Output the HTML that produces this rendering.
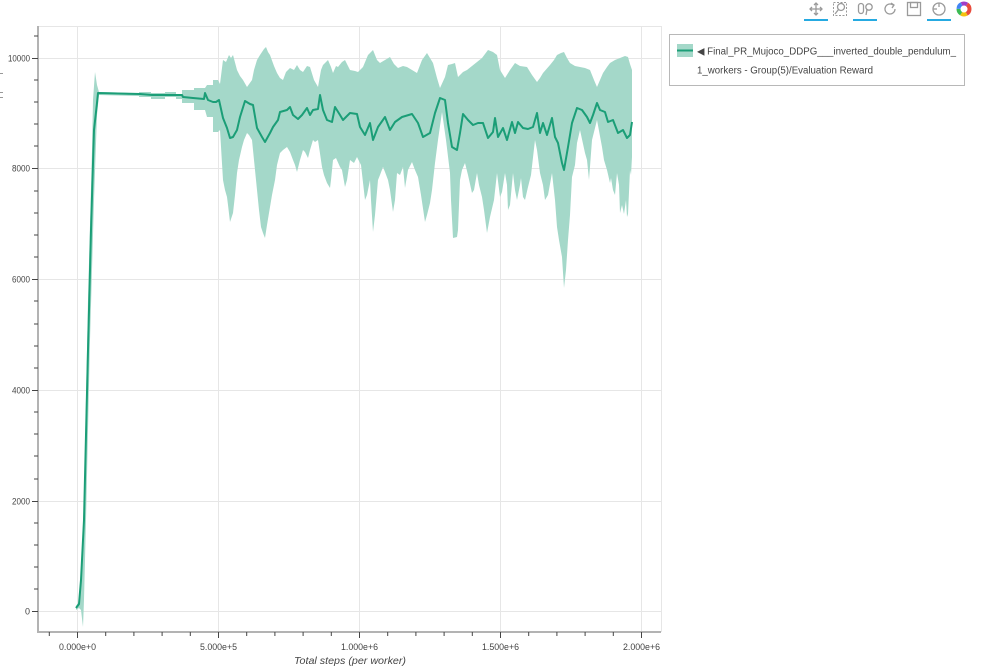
<!DOCTYPE html>
<html><head><meta charset="utf-8"><style>
html,body{margin:0;padding:0;background:#fff;}
svg{display:block;font-family:"Liberation Sans",sans-serif;}
</style></head><body>
<svg width="991" height="670" viewBox="0 0 991 670" xmlns="http://www.w3.org/2000/svg">
<rect width="991" height="670" fill="#fff"/>
<!-- grid -->
<g stroke="#e6e6e6" stroke-width="1">
<line x1="38" y1="58.5" x2="661" y2="58.5"/>
<line x1="38" y1="168.5" x2="661" y2="168.5"/>
<line x1="38" y1="279.5" x2="661" y2="279.5"/>
<line x1="38" y1="390.5" x2="661" y2="390.5"/>
<line x1="38" y1="501.5" x2="661" y2="501.5"/>
<line x1="38" y1="611.5" x2="661" y2="611.5"/>
<line x1="77.5" y1="26" x2="77.5" y2="632"/>
<line x1="218.5" y1="26" x2="218.5" y2="632"/>
<line x1="359.5" y1="26" x2="359.5" y2="632"/>
<line x1="500.5" y1="26" x2="500.5" y2="632"/>
<line x1="641.5" y1="26" x2="641.5" y2="632"/>
<line x1="38" y1="26.5" x2="661" y2="26.5"/>
<line x1="661.5" y1="26" x2="661.5" y2="632"/>
</g>
<!-- band -->
<polygon fill="#a4d8c9" points="76,606 80,600 84,500 88,300 92,150 93,100 95,72 97,85 99,92 139,93 139,92 151,92 151,93 165,93 165,92 176,92 176,94 182,94 182,90 194,90 194,88 205,88 207,85 213,85 213,80 218,80 220,84 223,60 226,62 229,55 231,58 233,55 237,70 240,76 243,80 247,87 252,80 254,70 257,60 260,55 262,52 264,49 266,47 268,52 270,55 274,66 277,73 280,78 283,80 286,72 290,68 294,70 297,65 300,70 303,72 307,66 310,67 314,80 318,87 321,70 323,65 328,60 331,67 333,73 336,66 338,67 342,62 345,60 348,66 350,70 355,71 358,72 363,67 368,55 371,52 373,50 377,60 380,63 385,60 390,57 394,64 398,68 403,66 407,67 412,70 417,73 422,60 427,53 430,58 433,63 437,78 440,88 445,77 448,65 452,64 455,63 458,77 463,72 467,70 472,66 477,62 482,58 488,50 493,52 497,55 500,70 505,78 510,70 515,63 520,66 527,67 532,75 537,82 540,78 543,73 550,65 554,60 557,55 561,53 564,52 567,58 570,63 575,66 580,67 585,68 590,70 594,80 597,87 600,80 603,73 607,67 610,63 615,60 620,58 625,56 628,57 630,64 632,70 632,157 631,175 630,170 628,214 627,217 626,200 624,214 622,205 620,213 619,185 617,173 615,195 613,190 611,178 610,183 607,170 604,160 602,147 597,120 592,140 589,180 587,160 585,153 580,130 577,143 575,165 572,177 570,215 568,240 566,270 564,288 562,257 559,240 557,227 555,200 552,173 548,195 545,200 543,185 540,173 537,150 535,140 531,175 528,187 525,200 523,197 521,178 520,185 517,200 515,190 513,173 510,205 508,210 507,185 505,173 502,192 500,197 497,173 494,200 490,217 487,233 484,210 482,197 479,185 477,173 474,190 472,193 468,175 465,163 462,170 460,180 458,230 457,237 453,238 451,200 450,173 446,140 442,112 438,140 435,163 432,190 430,203 427,215 425,222 421,195 418,177 415,170 412,162 408,170 405,188 403,167 400,175 397,173 395,200 393,212 390,190 388,180 385,172 383,167 380,175 378,180 375,215 373,232 371,200 370,180 367,195 365,200 361,165 357,157 354,163 350,160 347,180 345,187 342,170 340,167 336,158 333,160 331,180 330,188 327,183 324,175 322,167 318,140 315,142 313,140 310,150 308,158 305,152 303,150 300,160 297,172 295,165 293,160 290,152 287,147 283,150 280,153 277,165 275,180 272,195 270,207 267,225 265,238 263,233 261,227 259,210 257,190 254,160 252,140 249,135 247,133 244,140 242,147 239,160 237,173 235,195 233,213 230,222 228,205 227,197 225,190 223,180 220,130 218,132 213,132 213,117 207,117 205,110 194,110 194,103 182,103 182,99 176,99 176,97 165,97 165,99 151,99 151,97 139,97 139,96 99,95 97,115 94,200 90,340 86,520 84,600 83,627 81,610 79,608 76,610"/>
<!-- mean line -->
<polyline fill="none" stroke="#1b9e77" stroke-width="2" stroke-linejoin="round" points="76,608 79,604 81,580 84,520 88,350 91,230 94,130 97,103 98,93 140,94 152,95 166,95 182,95 183,97 193,98 204,99 205,93 208,100 213,102 216,102 219,100 223,118 227,128 230,138 233,137 237,130 240,117 245,101 250,104 253,105 257,128 262,137 265,142 270,133 273,127 278,120 280,112 287,110 290,107 293,115 298,119 302,115 307,108 310,115 313,110 318,109 320,95 323,110 327,120 332,122 335,107 340,115 343,120 350,113 357,114 360,127 365,135 370,123 373,140 378,127 385,117 390,130 395,122 402,117 412,114 418,123 423,137 430,133 435,113 440,98 445,100 448,123 452,147 457,150 460,133 463,114 468,120 473,125 478,123 483,123 488,138 493,132 495,118 498,137 503,128 507,140 512,122 515,133 518,122 523,128 528,129 533,127 537,113 540,133 543,123 547,135 552,118 555,137 558,143 562,163 564,170 568,147 572,123 577,108 582,110 587,117 590,123 593,115 597,103 600,110 605,112 608,122 613,120 618,133 623,130 627,138 630,135 632,122"/>
<!-- axes -->
<g stroke="#b3b3b3" stroke-width="2">
<line x1="38" y1="26" x2="38" y2="633"/>
<line x1="37" y1="632" x2="661" y2="632"/>
</g>
<g stroke="#444" stroke-width="1">
<line x1="32" y1="58.5" x2="38" y2="58.5"/>
<line x1="32" y1="168.5" x2="38" y2="168.5"/>
<line x1="32" y1="279.5" x2="38" y2="279.5"/>
<line x1="32" y1="390.5" x2="38" y2="390.5"/>
<line x1="32" y1="501.5" x2="38" y2="501.5"/>
<line x1="32" y1="611.5" x2="38" y2="611.5"/>
<line x1="34" y1="36" x2="38" y2="36"/>
<line x1="34" y1="80" x2="38" y2="80"/><line x1="34" y1="102" x2="38" y2="102"/><line x1="34" y1="124" x2="38" y2="124"/><line x1="34" y1="146" x2="38" y2="146"/>
<line x1="34" y1="191" x2="38" y2="191"/><line x1="34" y1="213" x2="38" y2="213"/><line x1="34" y1="235" x2="38" y2="235"/><line x1="34" y1="257" x2="38" y2="257"/>
<line x1="34" y1="301" x2="38" y2="301"/><line x1="34" y1="324" x2="38" y2="324"/><line x1="34" y1="346" x2="38" y2="346"/><line x1="34" y1="368" x2="38" y2="368"/>
<line x1="34" y1="412" x2="38" y2="412"/><line x1="34" y1="434" x2="38" y2="434"/><line x1="34" y1="456" x2="38" y2="456"/><line x1="34" y1="479" x2="38" y2="479"/>
<line x1="34" y1="523" x2="38" y2="523"/><line x1="34" y1="545" x2="38" y2="545"/><line x1="34" y1="567" x2="38" y2="567"/><line x1="34" y1="589" x2="38" y2="589"/>
<line x1="77.5" y1="632" x2="77.5" y2="638"/>
<line x1="218.5" y1="632" x2="218.5" y2="638"/>
<line x1="359.5" y1="632" x2="359.5" y2="638"/>
<line x1="500.5" y1="632" x2="500.5" y2="638"/>
<line x1="641.5" y1="632" x2="641.5" y2="638"/>
<line x1="49.3" y1="632" x2="49.3" y2="636"/>
<line x1="105.7" y1="632" x2="105.7" y2="636"/><line x1="133.9" y1="632" x2="133.9" y2="636"/><line x1="162.1" y1="632" x2="162.1" y2="636"/><line x1="190.3" y1="632" x2="190.3" y2="636"/>
<line x1="246.7" y1="632" x2="246.7" y2="636"/><line x1="274.9" y1="632" x2="274.9" y2="636"/><line x1="303.1" y1="632" x2="303.1" y2="636"/><line x1="331.3" y1="632" x2="331.3" y2="636"/>
<line x1="387.7" y1="632" x2="387.7" y2="636"/><line x1="415.9" y1="632" x2="415.9" y2="636"/><line x1="444.1" y1="632" x2="444.1" y2="636"/><line x1="472.3" y1="632" x2="472.3" y2="636"/>
<line x1="528.7" y1="632" x2="528.7" y2="636"/><line x1="556.9" y1="632" x2="556.9" y2="636"/><line x1="585.1" y1="632" x2="585.1" y2="636"/><line x1="613.3" y1="632" x2="613.3" y2="636"/>
</g>
<!-- y labels -->
<g font-size="9" fill="#444" text-anchor="end">
<text x="30" y="61.5" textLength="22" lengthAdjust="spacingAndGlyphs">10000</text>
<text x="30" y="171.5" textLength="18" lengthAdjust="spacingAndGlyphs">8000</text>
<text x="30" y="282.5" textLength="18" lengthAdjust="spacingAndGlyphs">6000</text>
<text x="30" y="393.5" textLength="18" lengthAdjust="spacingAndGlyphs">4000</text>
<text x="30" y="504.5" textLength="18" lengthAdjust="spacingAndGlyphs">2000</text>
<text x="30" y="614.5">0</text>
</g>
<!-- x labels -->
<g font-size="9" fill="#444" text-anchor="middle">
<text x="77.5" y="650" textLength="37" lengthAdjust="spacingAndGlyphs">0.000e+0</text>
<text x="218.5" y="650" textLength="37" lengthAdjust="spacingAndGlyphs">5.000e+5</text>
<text x="359.5" y="650" textLength="37" lengthAdjust="spacingAndGlyphs">1.000e+6</text>
<text x="500.5" y="650" textLength="37" lengthAdjust="spacingAndGlyphs">1.500e+6</text>
<text x="641.5" y="650" textLength="37" lengthAdjust="spacingAndGlyphs">2.000e+6</text>
</g>
<text x="350" y="664" font-size="10.5" font-style="italic" fill="#444" text-anchor="middle" textLength="112" lengthAdjust="spacingAndGlyphs">Total steps (per worker)</text>
<g fill="#999"><rect x="0" y="73" width="3" height="1"/><rect x="0" y="92" width="3" height="1"/><rect x="0" y="97" width="3" height="1"/></g>
<!-- legend -->
<rect x="669.5" y="34.5" width="295" height="51" fill="#fff" stroke="#b8b8b8" stroke-width="1"/>
<rect x="677" y="44" width="16" height="13" fill="#a4d8c9"/>
<line x1="677" y1="50.5" x2="693" y2="50.5" stroke="#1b9e77" stroke-width="2"/>
<text x="697" y="54.5" font-size="10" fill="#444" textLength="259" lengthAdjust="spacingAndGlyphs">◀ Final_PR_Mujoco_DDPG___inverted_double_pendulum_</text>
<text x="697" y="73.5" font-size="10" fill="#444" textLength="176" lengthAdjust="spacingAndGlyphs">1_workers - Group(5)/Evaluation Reward</text>
<!-- toolbar -->
<g stroke="#26aae1" stroke-width="2">
<line x1="804" y1="20" x2="828" y2="20"/>
<line x1="853" y1="20" x2="877" y2="20"/>
<line x1="927" y1="20" x2="951" y2="20"/>
</g>
<g fill="none" stroke="#9a9a9a" stroke-width="1.3">
<line x1="816" y1="3" x2="816" y2="15"/><line x1="810" y1="9" x2="822" y2="9"/>
<polyline points="814,5 816,3 818,5"/><polyline points="814,13 816,15 818,13"/>
<polyline points="812,7 810,9 812,11"/><polyline points="820,7 822,9 820,11"/>
<rect x="833.5" y="2.5" width="13" height="13" stroke-dasharray="2,1.5" stroke-width="1"/>
<circle cx="841" cy="7" r="3.5"/><line x1="838.5" y1="9.5" x2="835" y2="14"/>
<rect x="858.5" y="3.5" width="5" height="10" rx="2.5"/>
<circle cx="869" cy="7" r="3.2"/><line x1="867" y1="9.5" x2="866" y2="15"/>
<path d="M895,9 A5,5 0 1 1 893,5"/><polyline points="891,3 894,5 892,8"/>
<rect x="907.5" y="2.5" width="13" height="13"/><rect x="910.5" y="2.5" width="7" height="5"/>
<circle cx="939" cy="9" r="6"/><line x1="939" y1="3" x2="939" y2="7"/><line x1="933" y1="9" x2="937" y2="9"/>
</g>
<g>
<circle cx="964" cy="9" r="5.5" fill="none" stroke-width="4" stroke="#e94b3c" stroke-dasharray="5.8 100"/>
<circle cx="964" cy="9" r="5.5" fill="none" stroke-width="4" stroke="#f4c20d" stroke-dasharray="0 5.8 5.8 100"/>
<circle cx="964" cy="9" r="5.5" fill="none" stroke-width="4" stroke="#3cba54" stroke-dasharray="0 11.6 5.8 100"/>
<circle cx="964" cy="9" r="5.5" fill="none" stroke-width="4" stroke="#4285f4" stroke-dasharray="0 17.4 5.8 100"/>
<circle cx="964" cy="9" r="5.5" fill="none" stroke-width="4" stroke="#a03ec8" stroke-dasharray="0 23.2 5.8 100"/>
<circle cx="964" cy="9" r="5.5" fill="none" stroke-width="4" stroke="#e94b3c" stroke-dasharray="0 29 5.6 100"/>
<circle cx="964" cy="9" r="2.5" fill="#fff"/>
</g>
</svg>
</body></html>
